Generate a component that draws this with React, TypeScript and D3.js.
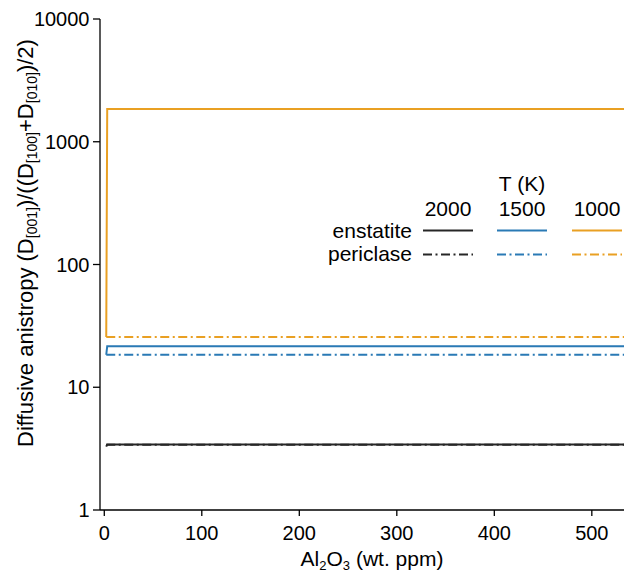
import React, { useEffect, useRef } from 'react';
import * as d3 from 'd3';

// Al2O3 content (wt. ppm) where the curves are sampled
const alEnstatite = [2, 3, 540];
const alPericlase = [2, 540];

// diffusive anisotropy values by temperature
const temps = ['2000', '1500', '1000'];
const enstatite = [
  [3.28, 3.42, 3.42],
  [18.4, 21.6, 21.6],
  [25.7, 1845, 1845],
];
const periclase = [
  [3.4, 3.4],
  [18.4, 18.4],
  [25.7, 25.7],
];
const colors = ['#262626', '#2a7ab5', '#e9a023'];

const xTicks = [0, 100, 200, 300, 400, 500];
const yTicks = [1, 10, 100, 1000, 10000];

const FONT = '"Liberation Sans", Arial, Helvetica, sans-serif';
const DASH = '9,3.5,2,3.5';

const App = () => {
  const svgRef = useRef<SVGSVGElement>(null);

  useEffect(() => {
    const svg = d3.select(svgRef.current);
    svg.selectAll('*').remove();

    const x = d3.scaleLinear().domain([-4.4, 533]).range([100, 624]);
    const y = d3.scaleLog().domain([1, 10000]).range([510, 19]);

    const g = svg.append('g');

    // lines
    const line = (xs: number[]) =>
      d3.line<number>()
        .x((_, i) => x(xs[i]))
        .y(d => y(d));

    enstatite.forEach((vals, i) => {
      g.append('path')
        .attr('d', line(alEnstatite)(vals))
        .attr('fill', 'none')
        .attr('stroke', colors[i])
        .attr('stroke-width', 2);
    });
    periclase.forEach((vals, i) => {
      g.append('path')
        .attr('d', line(alPericlase)(vals))
        .attr('fill', 'none')
        .attr('stroke', colors[i])
        .attr('stroke-width', 2)
        .attr('stroke-dasharray', DASH);
    });

    // axes
    const xAxis = g.append('g').attr('transform', `translate(0,${y(1)})`);
    xAxis.append('line')
      .attr('x1', 100).attr('x2', 624)
      .attr('stroke', '#000').attr('stroke-width', 1.3);
    xTicks.forEach(t => {
      xAxis.append('line')
        .attr('x1', x(t)).attr('x2', x(t)).attr('y1', 0).attr('y2', 6)
        .attr('stroke', '#000').attr('stroke-width', 1.3);
      xAxis.append('text')
        .attr('x', x(t)).attr('y', 30)
        .attr('text-anchor', 'middle')
        .style('font-family', FONT).style('font-size', '20px')
        .text(t);
    });

    const yAxis = g.append('g').attr('transform', 'translate(100,0)');
    yAxis.append('line')
      .attr('y1', y(1)).attr('y2', y(10000))
      .attr('stroke', '#000').attr('stroke-width', 1.3);
    yTicks.forEach(t => {
      yAxis.append('line')
        .attr('x1', -7).attr('x2', 0).attr('y1', y(t)).attr('y2', y(t))
        .attr('stroke', '#000').attr('stroke-width', 1.3);
      yAxis.append('text')
        .attr('x', -10.5).attr('y', y(t)).attr('dy', '0.36em')
        .attr('text-anchor', 'end')
        .style('font-family', FONT).style('font-size', '20px')
        .text(t);
    });

    // x label
    const xl = svg.append('text')
      .attr('x', 372).attr('y', 566)
      .attr('text-anchor', 'middle')
      .style('font-family', FONT).style('font-size', '21px');
    xl.append('tspan').text('Al');
    xl.append('tspan').attr('baseline-shift', '-30%').style('font-size', '13px').text('2');
    xl.append('tspan').text('O');
    xl.append('tspan').attr('baseline-shift', '-30%').style('font-size', '13px').text('3');
    xl.append('tspan').text(' (wt. ppm)');

    // y label
    const yl = svg.append('text')
      .attr('transform', 'translate(33,243) rotate(-90)')
      .attr('text-anchor', 'middle')
      .style('font-family', FONT).style('font-size', '22px');
    const parts: [string, boolean][] = [
      ['Diffusive anistropy (D', false], ['[001]', true], [')/((D', false],
      ['[100]', true], ['+D', false], ['[010]', true], [')/2)', false],
    ];
    parts.forEach(([s, sub]) => {
      const t = yl.append('tspan').text(s);
      if (sub) t.attr('baseline-shift', '-30%').style('font-size', '14px');
    });

    // legend
    const leg = svg.append('g').style('font-family', FONT).style('font-size', '21px');
    const colX = [448, 522, 597];
    leg.append('text').attr('x', colX[1]).attr('y', 191)
      .attr('text-anchor', 'middle').text('T (K)');
    temps.forEach((t, i) => {
      leg.append('text').attr('x', colX[i]).attr('y', 215.5)
        .attr('text-anchor', 'middle').text(t);
      leg.append('line')
        .attr('x1', colX[i] - 25).attr('x2', colX[i] + 25)
        .attr('y1', 230.5).attr('y2', 230.5)
        .attr('stroke', colors[i]).attr('stroke-width', 2);
      leg.append('line')
        .attr('x1', colX[i] - 25).attr('x2', colX[i] + 25)
        .attr('y1', 254.5).attr('y2', 254.5)
        .attr('stroke', colors[i]).attr('stroke-width', 2)
        .attr('stroke-dasharray', DASH);
    });
    leg.append('text').attr('x', 412).attr('y', 237.5)
      .attr('text-anchor', 'end').text('enstatite');
    leg.append('text').attr('x', 412).attr('y', 261)
      .attr('text-anchor', 'end').text('periclase');
  }, []);

  return (
    <svg
      ref={svgRef}
      width={624}
      height={575}
      style={{ position: 'absolute', left: 0, top: 0, background: '#fff' }}
    />
  );
};

export default App;
